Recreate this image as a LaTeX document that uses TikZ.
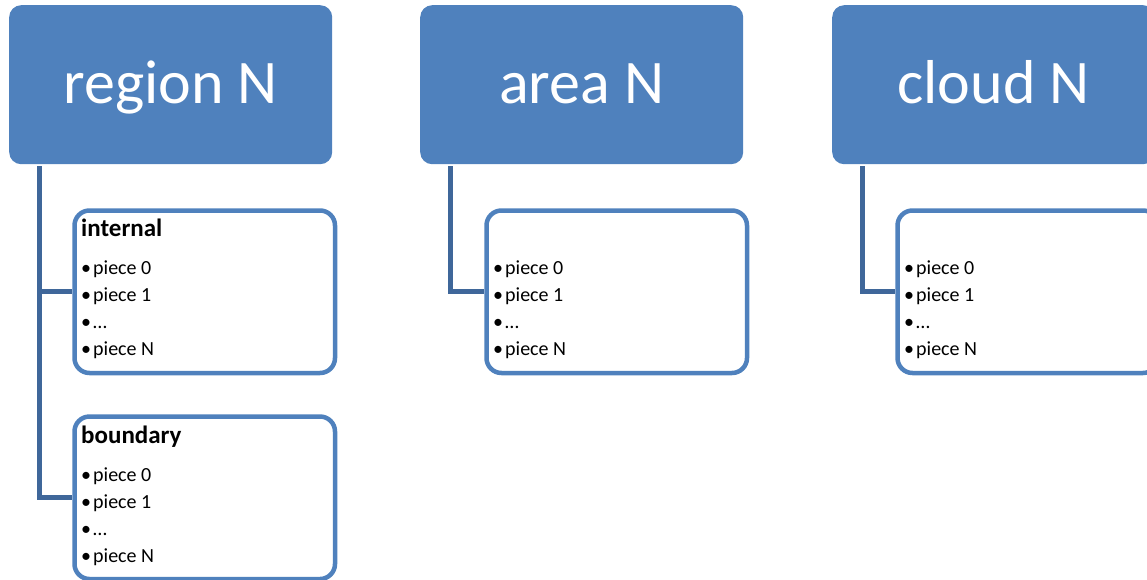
\documentclass[tikz,border=0pt]{standalone}
\usepackage{fontspec}
\setmainfont{Carlito}
\usetikzlibrary{backgrounds}
\definecolor{accent}{RGB}{79,129,189}
\definecolor{linkblue}{RGB}{63,103,154}
\begin{document}
\begin{tikzpicture}[x=1pt,y=-1pt,
  topbox/.style={fill=accent, rounded corners=12pt, minimum width=323pt, minimum height=159pt,
    inner sep=0pt, text=white, font=\fontsize{62}{62}\selectfont, anchor=north west,
    text height=37pt, text depth=0pt},
  listbox/.style={draw=accent, line width=4.5pt, fill=white, rounded corners=15pt,
    minimum width=260.5pt, minimum height=162.5pt, anchor=north west, inner sep=0pt},
  link/.style={draw=linkblue, line width=5pt},
  head/.style={anchor=base west, inner sep=0pt, font=\bfseries\fontsize{25}{25}\selectfont},
  item/.style={anchor=base west, inner sep=0pt, font=\fontsize{20}{20}\selectfont}]
\useasboundingbox (0,0) rectangle (1147,579);

% top-level boxes
\node[topbox] (rg) at (9,5) {region N};
\node[topbox] (ar) at (420,5) {area N};
\node[topbox] (cl) at (832,5) {cloud N};

% stems hanging from the top boxes
\coordinate (rgstem) at ([xshift=30pt,yshift=-2pt]rg.south west);
\coordinate (arstem) at ([xshift=30pt,yshift=-2pt]ar.south west);
\coordinate (clstem) at ([xshift=30pt,yshift=-2pt]cl.south west);

% child boxes
\node[listbox] (int) at (72.25,208.25) {};
\node[listbox] (bnd) at (72.25,414.25) {};
\node[listbox] (arl) at (484.25,208.25) {};
\node[listbox] (cll) at (895.25,208.25) {};

% connectors, kept behind the boxes
\begin{scope}[on background layer]
\draw[link] (rgstem) |- (bnd.west);
\draw[link] (rgstem |- int.west) -- (int.west);
\draw[link] (arstem) |- (arl.west);
\draw[link] (clstem) |- (cll.west);
\end{scope}

% headings
\node[head] (inthead) at (81,236) {internal};
\node[head] (bndhead) at (81,443) {boundary};

% bullet lists
\foreach \px/\py/\tag in {81/274/int, 81/481/bnd, 493/274/ar, 904/274/cl}{
  \foreach \t [count=\i from 0] in {piece 0, piece 1, {\textellipsis}, piece N}{
    \node[item] (\tag-item-\i) at (\px,\py+27.3*\i) {\makebox[12pt][l]{•}\t};
  }
}
\end{tikzpicture}
\end{document}
